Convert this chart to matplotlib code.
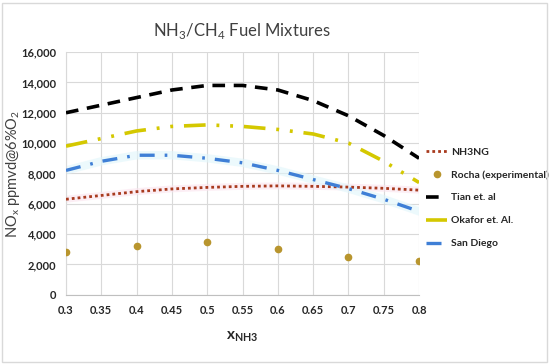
import matplotlib.pyplot as plt
from matplotlib.patches import Rectangle

plt.rcParams['font.family'] = ['Lato', 'DejaVu Sans']

x = [0.3, 0.35, 0.4, 0.45, 0.5, 0.55, 0.6, 0.65, 0.7, 0.75, 0.8]
nh3ng = [6300, 6550, 6800, 6980, 7080, 7150, 7180, 7150, 7100, 7020, 6900]
tian = [12000, 12500, 13000, 13500, 13800, 13800, 13500, 12800, 11800, 10500, 9000]
okafor = [9800, 10300, 10800, 11100, 11200, 11100, 10900, 10600, 10000, 8800, 7400]
san_diego = [8200, 8800, 9200, 9200, 9000, 8700, 8200, 7600, 7000, 6300, 5500]
rocha_x = [0.3, 0.4, 0.5, 0.6, 0.7, 0.8]
rocha = [2800, 3200, 3500, 3000, 2500, 2200]

fig = plt.figure(figsize=(5.5, 3.64), dpi=100)
fig.patches.append(Rectangle((0.004, 0.006), 0.99, 0.985, transform=fig.transFigure,
                             fill=False, edgecolor='#d9d9d9', lw=1))
ax = fig.add_axes([0.12, 0.19, 0.642, 0.667])

# light glow behind lines
ax.plot(x, nh3ng, color='#fbe3ee', lw=5, alpha=0.6, zorder=1)
ax.plot(x, san_diego, color='#e0f6fb', lw=6, alpha=0.6, zorder=1)

ax.plot(x, nh3ng, color='#a83a1e', lw=2, ls=(0, (1, 1.1)), label='NH3NG', zorder=3)
ax.plot(rocha_x, rocha, 'o', color='#b8952e', ms=4.5, ls='none', label='Rocha (experimental)', zorder=4)
ax.plot(x, tian, color='black', lw=2.6, ls=(0, (3.5, 2.4)), label='Tian et. al', zorder=3)
ax.plot(x, okafor, color='#d4c800', lw=2.6, ls=(0, (6, 3, 0.8, 3, 0.8, 3)), label='Okafor et. Al.', zorder=3)
ax.plot(x, san_diego, color='#3f7fd6', lw=2.4, ls=(0, (4.5, 3, 0.8, 3)), label='San Diego', zorder=3)

ax.set_xlim(0.3, 0.8)
ax.set_ylim(0, 16000)
ax.set_xticks([0.3, 0.35, 0.4, 0.45, 0.5, 0.55, 0.6, 0.65, 0.7, 0.75, 0.8])
ax.set_xticklabels(['0.3', '0.35', '0.4', '0.45', '0.5', '0.55', '0.6', '0.65', '0.7', '0.75', '0.8'])
ax.set_yticks(range(0, 16001, 2000))
ax.set_yticklabels([f'{v:,}' for v in range(0, 16001, 2000)])
ax.grid(color='#d9d9d9', lw=0.8)
ax.set_axisbelow(True)
for s in ['top', 'right']:
    ax.spines[s].set_visible(False)
ax.spines['left'].set_color('#d9d9d9')
ax.spines['bottom'].set_color('#bfbfbf')
ax.tick_params(length=0, labelsize=8, pad=7)
for lab in ax.get_xticklabels() + ax.get_yticklabels():
    lab.set_fontweight('bold')
    lab.set_color('#262626')

ax.set_xlabel(r'x$_{\mathregular{NH3}}$', fontsize=11, fontweight='bold', color='#262626', labelpad=10)
ax.set_ylabel(r'NO$_{\mathregular{x}}$ ppmvd@6%O$_{\mathregular{2}}$', fontsize=10.5, color='#404040')
ax.yaxis.set_label_coords(-0.125, 0.5)
fig.text(0.44, 0.915, r'NH$_{\mathregular{3}}$/CH$_{\mathregular{4}}$ Fuel Mixtures',
         ha='center', va='center', fontsize=12, color='#404040')

leg = ax.legend(loc='center left', bbox_to_anchor=(1.0, 0.40), frameon=False,
                fontsize=7.5, handlelength=2.0, handletextpad=0.4, labelspacing=1.3,
                borderaxespad=0.3)
for t in leg.get_texts():
    t.set_fontweight('bold')
    t.set_color('#262626')

fig.savefig('out.png', dpi=100)
